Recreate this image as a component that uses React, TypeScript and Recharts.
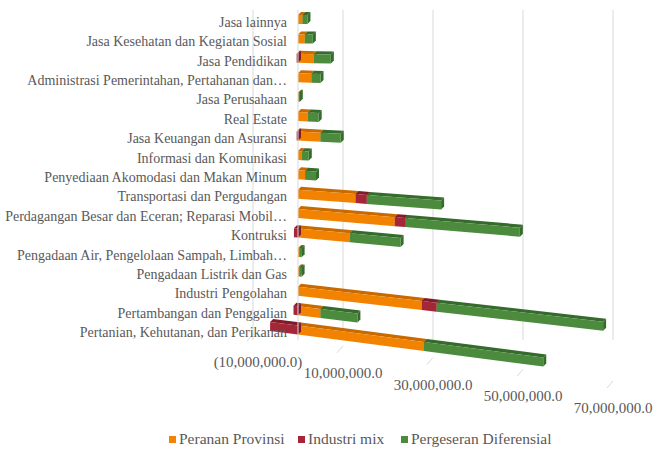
import { Bar, BarChart, CartesianGrid, ReferenceLine, XAxis, YAxis } from 'recharts';

const categories = [
  'Pertanian, Kehutanan, dan Perikanan',
  'Pertambangan dan Penggalian',
  'Industri Pengolahan',
  'Pengadaan Listrik dan Gas',
  'Pengadaan Air, Pengelolaan Sampah, Limbah…',
  'Kontruksi',
  'Perdagangan Besar dan Eceran; Reparasi Mobil…',
  'Transportasi dan Pergudangan',
  'Penyediaan Akomodasi dan Makan Minum',
  'Informasi dan Komunikasi',
  'Jasa Keuangan dan Asuransi',
  'Real Estate',
  'Jasa Perusahaan',
  'Administrasi Pemerintahan, Pertahanan dan…',
  'Jasa Pendidikan',
  'Jasa Kesehatan dan Kegiatan Sosial',
  'Jasa lainnya',
];

const perananProvinsi = [
  28000000, 5000000, 27500000, 300000, 300000, 11500000, 21500000, 12800000, 1600000, 900000,
  5000000, 2200000, 100000, 3000000, 3500000, 1500000, 1000000,
];
const industriMix = [
  -6200000, -1000000, 3300000, 0, 0, -900000, 2300000, 2500000, 0, 0,
  -300000, 0, 0, 0, -300000, 0, 0,
];
const pergeseranDiferensial = [
  26500000, 8200000, 37000000, 500000, 500000, 11300000, 25500000, 16500000, 2400000, 1500000,
  4500000, 2400000, 300000, 2000000, 3800000, 1800000, 1100000,
];

const xTicks = [-10000000, 10000000, 30000000, 50000000, 70000000];
const X_MIN = -10000000;
const X_MAX = 70000000;

const series = [
  { key: 'peranan', name: 'Peranan Provinsi', color: '#F28300', top: '#C96A00' },
  { key: 'mix', name: 'Industri mix', color: '#A52737', top: '#7E1C29' },
  { key: 'diff', name: 'Pergeseran Diferensial', color: '#4C8B3E', top: '#356B2B' },
];

const data = categories.map((c, i) => ({
  name: c,
  peranan: perananProvinsi[i],
  mix: industriMix[i],
  diff: pergeseranDiferensial[i],
}));

const FONT = '"Liberation Serif", "Times New Roman", serif';
const W = 653;
const H = 452;
const M = { top: 10, right: 40, left: 3, bottom: 82 };
const Y_W = 250;
const PLOT_L = M.left + Y_W;
const PLOT_W = W - PLOT_L - M.right;
const X0 = PLOT_L + ((0 - X_MIN) / (X_MAX - X_MIN)) * PLOT_W;

// perspective slant: bars lower on the front rows tilt more
const slope = (y: number) => Math.max(0, 0.13 - 0.0004 * (330 - y));

const fmt = (v: number) => {
  const s = Math.abs(v).toLocaleString('en-US', { minimumFractionDigits: 1, maximumFractionDigits: 1 });
  return v < 0 ? `(${s})` : s;
};

function Bar3D(props: any) {
  const { x, y, width, height, fill, topFill } = props;
  if (!width || Math.abs(width) < 0.01) return null;
  const x1 = Math.min(x, x + width);
  const x2 = Math.max(x, x + width);
  const k = slope(y + height / 2);
  const sy = (px: number) => k * (px - X0);
  const dx = 3;
  const dy = 3;
  const front = `${x1},${y + sy(x1)} ${x2},${y + sy(x2)} ${x2},${y + height + sy(x2)} ${x1},${y + height + sy(x1)}`;
  const top = `${x1},${y + sy(x1)} ${x1 + dx},${y - dy + sy(x1)} ${x2 + dx},${y - dy + sy(x2)} ${x2},${y + sy(x2)}`;
  const end = `${x2},${y + sy(x2)} ${x2 + dx},${y - dy + sy(x2)} ${x2 + dx},${y + height - dy + sy(x2)} ${x2},${y + height + sy(x2)}`;
  return (
    <g>
      <polygon points={top} fill={topFill} />
      <polygon points={end} fill={topFill} />
      <polygon points={front} fill={fill} />
    </g>
  );
}

function XTick(props: any) {
  const { x, y, payload, index } = props;
  const off = 0.13 * (x - X0);
  return (
    <g>
      <line x1={x} y1={y - 8 + off} x2={x - 6} y2={y - 1 + off} stroke="#d9d9d9" />
      <text
        x={x + (index === 0 ? 5 : 0)}
        y={y + 24 + off + (index === 0 ? 1 : 0)}
        textAnchor="middle"
        fill="#595959"
        fontSize={15}
        style={{ fontFamily: FONT }}
      >
        {fmt(payload.value)}
      </text>
    </g>
  );
}

function YTick(props: any) {
  const { y, payload } = props;
  return (
    <text
      x={PLOT_L + 34}
      y={y}
      dy={7}
      textAnchor="end"
      fill="#595959"
      fontSize={14}
      style={{ fontFamily: FONT }}
    >
      {payload.value}
    </text>
  );
}

function LegendRow() {
  const pos = [169, 298, 401];
  return (
    <div style={{ position: 'absolute', left: 0, top: 430, width: W, height: 20 }}>
      {series.map((s, i) => (
        <div
          key={s.key}
          style={{
            position: 'absolute',
            left: pos[i],
            top: 0,
            display: 'flex',
            alignItems: 'center',
            fontFamily: FONT,
            fontSize: 15.5,
            color: '#595959',
            whiteSpace: 'nowrap',
          }}
        >
          <span style={{ width: 7, height: 7, background: s.color, marginRight: 3, display: 'inline-block' }} />
          {s.name}
        </div>
      ))}
    </div>
  );
}

export default function App() {
  return (
    <div style={{ position: 'absolute', left: 0, top: 0, width: W, height: H, background: '#fff' }}>
      <BarChart
        width={W}
        height={H}
        data={data}
        layout="vertical"
        stackOffset="sign"
        margin={M}
        barSize={9}
      >
        <CartesianGrid vertical horizontal={false} stroke="#d9d9d9" />
        <ReferenceLine x={0} stroke="#d9d9d9" />
        <XAxis
          type="number"
          domain={[X_MIN, X_MAX]}
          ticks={xTicks}
          axisLine={false}
          tickLine={false}
          tick={<XTick />}
          height={30}
          interval={0}
        />
        <YAxis
          type="category"
          dataKey="name"
          reversed
          width={Y_W}
          axisLine={false}
          tickLine={false}
          tick={<YTick />}
          interval={0}
        />
        {series.map((s) => (
          <Bar
            key={s.key}
            dataKey={s.key}
            name={s.name}
            stackId="a"
            fill={s.color}
            isAnimationActive={false}
            shape={(p: any) => <Bar3D {...p} fill={s.color} topFill={s.top} />}
          />
        ))}
      </BarChart>
      <LegendRow />
    </div>
  );
}
